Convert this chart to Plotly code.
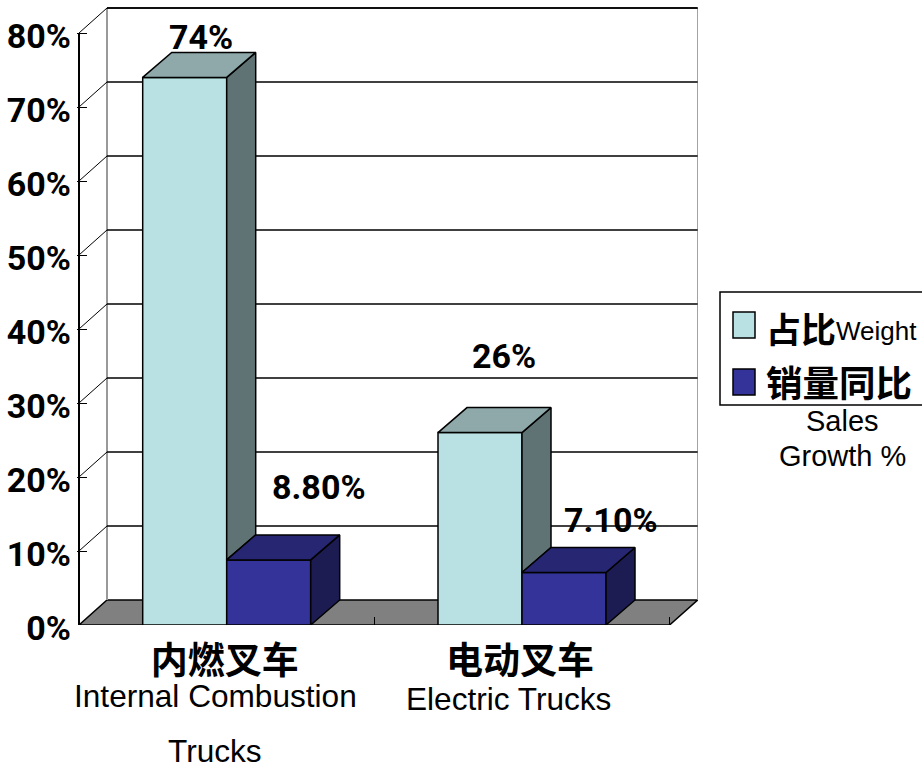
import plotly.graph_objects as go

categories_zh = ["内燃叉车", "电动叉车"]
categories_en = ["Internal Combustion", "Trucks", "Electric Trucks"]
series_names = ["占比", "销量同比"]
weight = [74, 26]
growth = [8.8, 7.1]
weight_labels = ["74%", "26%"]
growth_labels = ["8.80%", "7.10%"]
y_ticks = [0, 10, 20, 30, 40, 50, 60, 70, 80]
y_labels = ["0%", "10%", "20%", "30%", "40%", "50%", "60%", "70%", "80%"]

W, H = 922, 766
L, R, T = 77, 224, 7
ZERO_PX, PX_PER_PCT, PX_PER_CAT, CAT0_PX = 625, 7.4, 295.3, 226.7
B = H - ZERO_PX
xmin = (L - CAT0_PX) / PX_PER_CAT
xmax = (W - R - CAT0_PX) / PX_PER_CAT
ymax = (ZERO_PX - T) / PX_PER_PCT
LEFT = (79 - CAT0_PX) / PX_PER_CAT
RIGHT = LEFT + 2
DX, DY = 28 / PX_PER_CAT, 25 / PX_PER_PCT
BAR_W = 84 / PX_PER_CAT
BAR_DX = 29 / PX_PER_CAT

NUM_FONT = "Roboto"
NUM_SIZE = 34
CJK = "Noto Sans CJK SC"
LAT = "Liberation Sans"
LIGHT, LIGHT_TOP, LIGHT_SIDE = "#B9E0E3", "#8FA8AA", "#5F7375"
BLUE, BLUE_TOP, BLUE_SIDE = "#333399", "#262673", "#1C1C52"


def line(x0, y0, x1, y1, color="black", width=1.5):
    return dict(type="line", xref="x", yref="y", x0=x0, y0=y0, x1=x1, y1=y1,
                layer="below", line=dict(color=color, width=width))


shapes = [
    dict(type="path", xref="x", yref="y", layer="below", fillcolor="#808080",
         path=f"M{LEFT},0 L{LEFT+DX},{DY} L{RIGHT+DX},{DY} L{RIGHT},0 Z",
         line=dict(color="black", width=1.5)),
    line(LEFT + DX, DY, LEFT + DX, 80 + DY, "#999999", 2),
    line(RIGHT + DX, DY, RIGHT + DX, 80 + DY, "#999999", 1),
    line(LEFT, 0, LEFT, 80, "black", 2),
]
for t in y_ticks[1:]:
    shapes.append(line(LEFT + DX, t + DY, RIGHT + DX, t + DY))
    shapes.append(line(LEFT, t, LEFT + DX, t + DY, "black", 1))

fig = go.Figure()
xs = [0, 1]
fig.add_bar(x=xs, y=weight, width=BAR_W, offset=-BAR_W, name=series_names[0],
            marker=dict(color=LIGHT, line=dict(color="black", width=1.5)))
fig.add_bar(x=xs, y=growth, width=BAR_W, offset=0, name=series_names[1],
            marker=dict(color=BLUE, line=dict(color="black", width=1.5)))


def face(xv, yv, color):
    fig.add_scatter(x=xv + xv[:1], y=yv + yv[:1], mode="lines", fill="toself",
                    fillcolor=color, line=dict(color="black", width=1.5),
                    hoverinfo="skip", showlegend=False)


for i in xs:
    v, g = weight[i], growth[i]
    # light bar: side starts where the neighbouring bar's top hides it
    face([i, i + BAR_DX, i + BAR_DX, i], [g, g + DY, v + DY, v], LIGHT_SIDE)
    face([i - BAR_W, i - BAR_W + BAR_DX, i + BAR_DX, i], [v, v + DY, v + DY, v], LIGHT_TOP)
    # blue bar
    r = i + BAR_W
    face([r, r + BAR_DX, r + BAR_DX, r], [0, DY, g + DY, g], BLUE_SIDE)
    face([i, i + BAR_DX, r + BAR_DX, r], [g, g + DY, g + DY, g], BLUE_TOP)

annotations = []


def label(x, y, text, xs_, ys_):
    annotations.append(dict(x=x, y=y, xref="x", yref="y", text=f"<b>{text}</b>",
                            showarrow=False, xshift=xs_, yshift=ys_, yanchor="middle",
                            font=dict(family=NUM_FONT, size=NUM_SIZE, color="black")))


weight_pos = [(16, 40), (24, 77)]
growth_pos = [(50, 73), (47, 52)]
for i in xs:
    label(i - BAR_W / 2, weight[i], weight_labels[i], *weight_pos[i])
    label(i + BAR_W / 2, growth[i], growth_labels[i], *growth_pos[i])


def px(x, y, text, size, family=LAT, bold=False):
    annotations.append(dict(x=(x - L) / (W - L - R), y=(H - B - y) / (H - T - B),
                            xref="paper", yref="paper", text=f"<b>{text}</b>" if bold else text,
                            showarrow=False, xanchor="center", yanchor="middle",
                            font=dict(family=family, size=size, color="black")))


def rect(x0, y0, x1, y1, fill, width=1.5):
    shapes.append(dict(type="rect", xref="paper", yref="paper",
                       x0=(x0 - L) / (W - L - R), x1=(x1 - L) / (W - L - R),
                       y0=(H - B - y0) / (H - T - B), y1=(H - B - y1) / (H - T - B),
                       fillcolor=fill, line=dict(color="black", width=width)))


shapes.append(line(LEFT + DX, 80 + DY, RIGHT + DX, 80 + DY))
rect(720, 292, 930, 405, "white")
rect(733, 312, 755, 338, LIGHT)
rect(733, 369, 755, 395, BLUE)
px(801, 327, series_names[0], 35, CJK, True)
px(876, 331, "Weight", 26)
px(839.5, 382, series_names[1], 36.5, CJK, True)
px(842, 421, "Sales", 29)
px(842, 456, "Growth %", 29)
px(215, 696, categories_en[0], 31.6)
px(215, 751, categories_en[1], 31.6)
px(508, 699, categories_en[2], 31.6)

fig.update_layout(
    width=W, height=H, showlegend=False, barmode="overlay",
    margin=dict(l=L, r=R, t=T, b=B, autoexpand=False),
    plot_bgcolor="white", paper_bgcolor="white", shapes=shapes, annotations=annotations,
    xaxis=dict(range=[xmin, xmax], tickvals=xs,
               ticktext=[f"<b>{c}</b>" for c in categories_zh], ticks="", showgrid=False,
               zeroline=False, showline=False, ticklabelstandoff=11, ticklabelshift=-2,
               tickfont=dict(family=CJK, size=37, color="black"),
               minor=dict(tickvals=[0.5, 1.5], ticks="inside", ticklen=8, tickwidth=1,
                          tickcolor="black", showgrid=False)),
    yaxis=dict(range=[0, ymax], tickvals=y_ticks, ticktext=[f"<b>{t}</b>" for t in y_labels],
               ticks="inside", ticklen=10, tickwidth=1, tickcolor="black", showgrid=False,
               zeroline=False, showline=False, ticklabelstandoff=5, ticklabelshift=3,
               tickfont=dict(family=NUM_FONT, size=NUM_SIZE, color="black")),
)
fig.write_html("out.html", config={"displayModeBar": False},
               post_script="document.body.style.margin='0';")
